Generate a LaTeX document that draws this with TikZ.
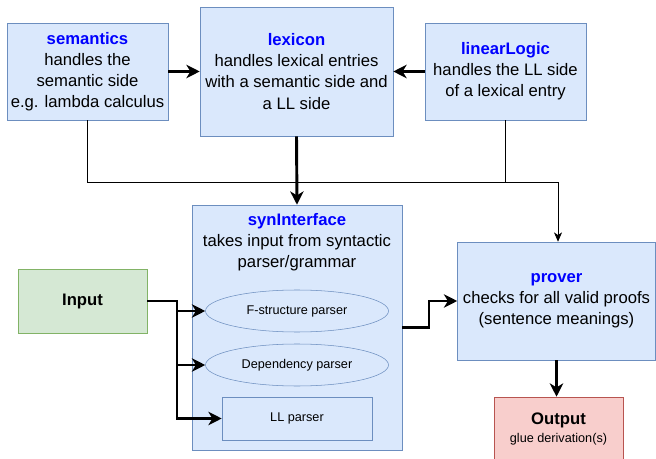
\documentclass[tikz,border=0pt]{standalone}
\usepackage{fontspec}
\setmainfont{Liberation Sans}
\usepackage{tikz}
\usetikzlibrary{arrows.meta, positioning, shapes.geometric, calc}
\definecolor{boxfill}{HTML}{DAE8FC}
\definecolor{boxline}{HTML}{6C8EBF}
\definecolor{infill}{HTML}{D5E8D4}
\definecolor{inline}{HTML}{82B366}
\definecolor{outfill}{HTML}{F8CECC}
\definecolor{outline}{HTML}{B85450}
\definecolor{titleblue}{HTML}{0000FF}
\newcommand{\modname}[1]{{\bfseries\color{titleblue}#1}}

\begin{document}
\begin{tikzpicture}[x=0.75pt, y=-0.75pt,
        font=\fontsize{12.5}{15.8}\selectfont,
        module/.style={draw=boxline, fill=boxfill, rectangle, align=center, inner sep=1pt},
        parser/.style={draw=boxline, fill=boxfill, align=center, font=\fontsize{9.5}{11}\selectfont},
        bigarrow/.style={line width=2.2pt, -{Stealth[length=10pt, width=10pt, inset=3pt]}},
        smallarrow/.style={line width=0.6pt, -{Stealth[length=7pt, width=6pt, inset=2pt]}}]
        \useasboundingbox (0,0) rectangle (656,459);

        % top row
        \node[module, minimum width=120.75pt, minimum height=72.75pt] (sem) at (87.5,71.5)
            {\modname{semantics}\\handles the\\semantic side\\e.g. lambda calculus};
        \node[module, minimum width=144.75pt, minimum height=96.75pt] (lex) at (296.5,71.5)
            {\modname{lexicon}\\handles lexical entries\\with a semantic side and\\a LL side};
        \node[module, minimum width=120.75pt, minimum height=72.75pt] (llog) at (505.5,71.5)
            {\modname{linearLogic}\\handles the LL side\\of a lexical entry};

        % syntax interface with its parsers
        \node[module, minimum width=157.5pt, minimum height=183.75pt] (syn) at (297,327.5) {};
        \node[align=center] (syntext) at (297,242)
            {\modname{synInterface}\\takes input from syntactic\\parser/grammar};
        \node[parser, ellipse, minimum width=137.25pt, minimum height=31.5pt] (fs) at (297,311) {F-structure parser};
        \node[parser, ellipse, minimum width=137.25pt, minimum height=31.5pt] (dep) at (297,365) {Dependency parser};
        \node[parser, rectangle, minimum width=112.5pt, minimum height=32.25pt] (llp) at (297,418.5) {LL parser};

        \node[draw=inline, fill=infill, minimum width=96.75pt, minimum height=48pt] (inp) at (82.5,301) {\bfseries Input};
        \node[module, minimum width=148.5pt, minimum height=88.5pt] (prov) at (556.5,301)
            {\modname{prover}\\checks for all valid proofs\\(sentence meanings)};
        \node[draw=outline, fill=outfill, minimum width=96.75pt, minimum height=48pt, align=center] (out) at (558.5,429)
            {\bfseries Output\\[-3pt]{\fontsize{9.5}{11}\selectfont glue derivation(s)}};

        % connectors
        \coordinate (split) at (177,301);
        \coordinate (bend) at (429,327.5);
        \coordinate (bus) at (558,182);
        \draw[bigarrow] (sem) -- (lex);
        \draw[bigarrow] (llog) -- (lex);
        \draw[bigarrow] (lex.south) -- (syn.north);
        \draw[smallarrow] (sem.south) |- (bus) -- (bus |- prov.north);
        \draw[line width=0.6pt] (llog.south) -- (llog.south |- bus);
        \draw[bigarrow] (inp.east) -- (split) |- (fs.west);
        \draw[bigarrow] (split) |- (dep.west);
        \draw[bigarrow] (split) |- (llp.west);
        \draw[bigarrow] (syn.east) -- (bend) |- (prov.west);
        \draw[bigarrow] (prov.south) -- (prov.south |- out.north);
\end{tikzpicture}
\end{document}
